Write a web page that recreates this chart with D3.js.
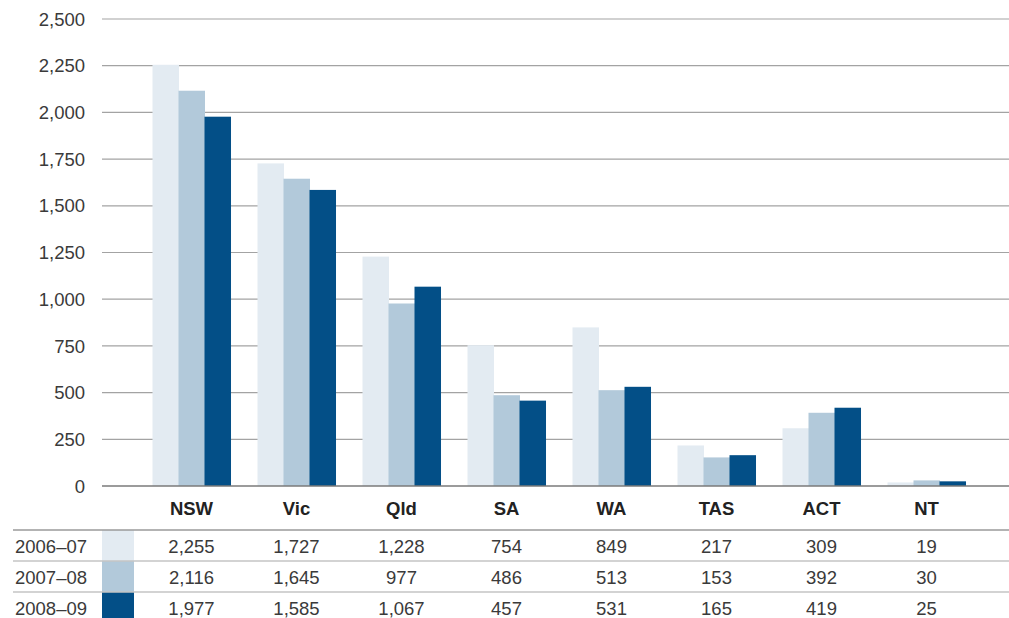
<!DOCTYPE html>
<html>
<head>
<meta charset="utf-8">
<script src="https://cdn.jsdelivr.net/npm/d3@7"></script>
<style>
  body { margin: 0; background: #fff; }
  svg text { font-family: "Liberation Sans", Arial, sans-serif; }
</style>
</head>
<body>
<div id="container"></div>
<script>

// data
const states = ["NSW", "Vic", "Qld", "SA", "WA", "TAS", "ACT", "NT"];
const years = ["2006–07", "2007–08", "2008–09"];
const v0607 = [2255, 1727, 1228, 754, 849, 217, 309, 19];
const v0708 = [2116, 1645, 977, 486, 513, 153, 392, 30];
const v0809 = [1977, 1585, 1067, 457, 531, 165, 419, 25];
const yTicks = [0, 250, 500, 750, 1000, 1250, 1500, 1750, 2000, 2250, 2500];
const colors = ["#e3ebf2", "#b2c9da", "#034f87"];

const series = [v0607, v0708, v0809];

const width = 1009;
const height = 618;

const svg = d3.create("svg")
    .attr("width", width)
    .attr("height", height);

// scales
const x = d3.scaleBand()
    .domain(states)
    .range([139, 979])
    .paddingInner(0.257)
    .paddingOuter(0.1285);

const xSub = d3.scaleBand()
    .domain(years)
    .range([0, x.bandwidth()]);

const y = d3.scaleLinear()
    .domain([0, 2500])
    .range([486, 19]);

// gridlines
svg.append("g")
  .selectAll("line")
  .data(yTicks.filter(d => d > 0))
  .join("line")
    .attr("x1", 102)
    .attr("x2", width)
    .attr("y1", d => y(d))
    .attr("y2", d => y(d))
    .attr("stroke", "#a3a3a3")
    .attr("stroke-width", 1.2);

// y labels
svg.append("g")
  .selectAll("text")
  .data(yTicks)
  .join("text")
    .attr("x", 85)
    .attr("y", d => y(d))
    .attr("dy", "0.36em")
    .attr("text-anchor", "end")
    .attr("font-size", "18.5px")
    .attr("fill", "#3a3a3a")
    .text(d => d3.format(",")(d));

// bars
const groups = svg.append("g")
  .selectAll("g")
  .data(states)
  .join("g")
    .attr("transform", d => `translate(${x(d)},0)`);

groups.selectAll("rect")
  .data((s, i) => years.map((yr, j) => ({ yr, j, v: series[j][i] })))
  .join("rect")
    .attr("x", d => xSub(d.yr))
    .attr("width", xSub.bandwidth() + 0.5)
    .attr("y", d => y(d.v))
    .attr("height", d => y(0) - y(d.v))
    .attr("fill", d => colors[d.j]);

// baseline
svg.append("line")
  .attr("x1", 102)
  .attr("x2", width)
  .attr("y1", y(0))
  .attr("y2", y(0))
  .attr("stroke", "#7a7a7a")
  .attr("stroke-width", 1.5);

// state labels
svg.append("g")
  .selectAll("text")
  .data(states)
  .join("text")
    .attr("x", d => x(d) + x.bandwidth() / 2)
    .attr("y", 508)
    .attr("dy", "0.36em")
    .attr("text-anchor", "middle")
    .attr("font-size", "18.5px")
    .attr("font-weight", "bold")
    .attr("fill", "#222")
    .text(d => d);

// table
const rowTop = [530, 561, 592];
const rowH = 31;

// swatches
svg.append("g")
  .selectAll("rect")
  .data(years)
  .join("rect")
    .attr("x", 102)
    .attr("y", (d, i) => rowTop[i])
    .attr("width", 32)
    .attr("height", (d, i) => i === 2 ? height - rowTop[i] : rowH)
    .attr("fill", (d, i) => colors[i]);

// row lines
svg.append("g")
  .selectAll("line")
  .data(rowTop)
  .join("line")
    .attr("x1", 13)
    .attr("x2", width)
    .attr("y1", d => d)
    .attr("y2", d => d)
    .attr("stroke", (d, i) => i === 0 ? "#9a9a9a" : "#c4c4c4")
    .attr("stroke-width", 1.5);

// row labels
svg.append("g")
  .selectAll("text")
  .data(years)
  .join("text")
    .attr("x", 15)
    .attr("y", (d, i) => rowTop[i] + rowH / 2 + 1)
    .attr("dy", "0.36em")
    .attr("font-size", "18.5px")
    .attr("fill", "#3a3a3a")
    .text(d => d);

// values
series.forEach((vals, j) => {
  svg.append("g")
    .selectAll("text")
    .data(vals)
    .join("text")
      .attr("x", (d, i) => x(states[i]) + x.bandwidth() / 2)
      .attr("y", rowTop[j] + rowH / 2 + 1)
      .attr("dy", "0.36em")
      .attr("text-anchor", "middle")
      .attr("font-size", "18.5px")
      .attr("fill", "#3a3a3a")
      .text(d => d3.format(",")(d));
});

container.append(svg.node());

</script>
</body>
</html>
